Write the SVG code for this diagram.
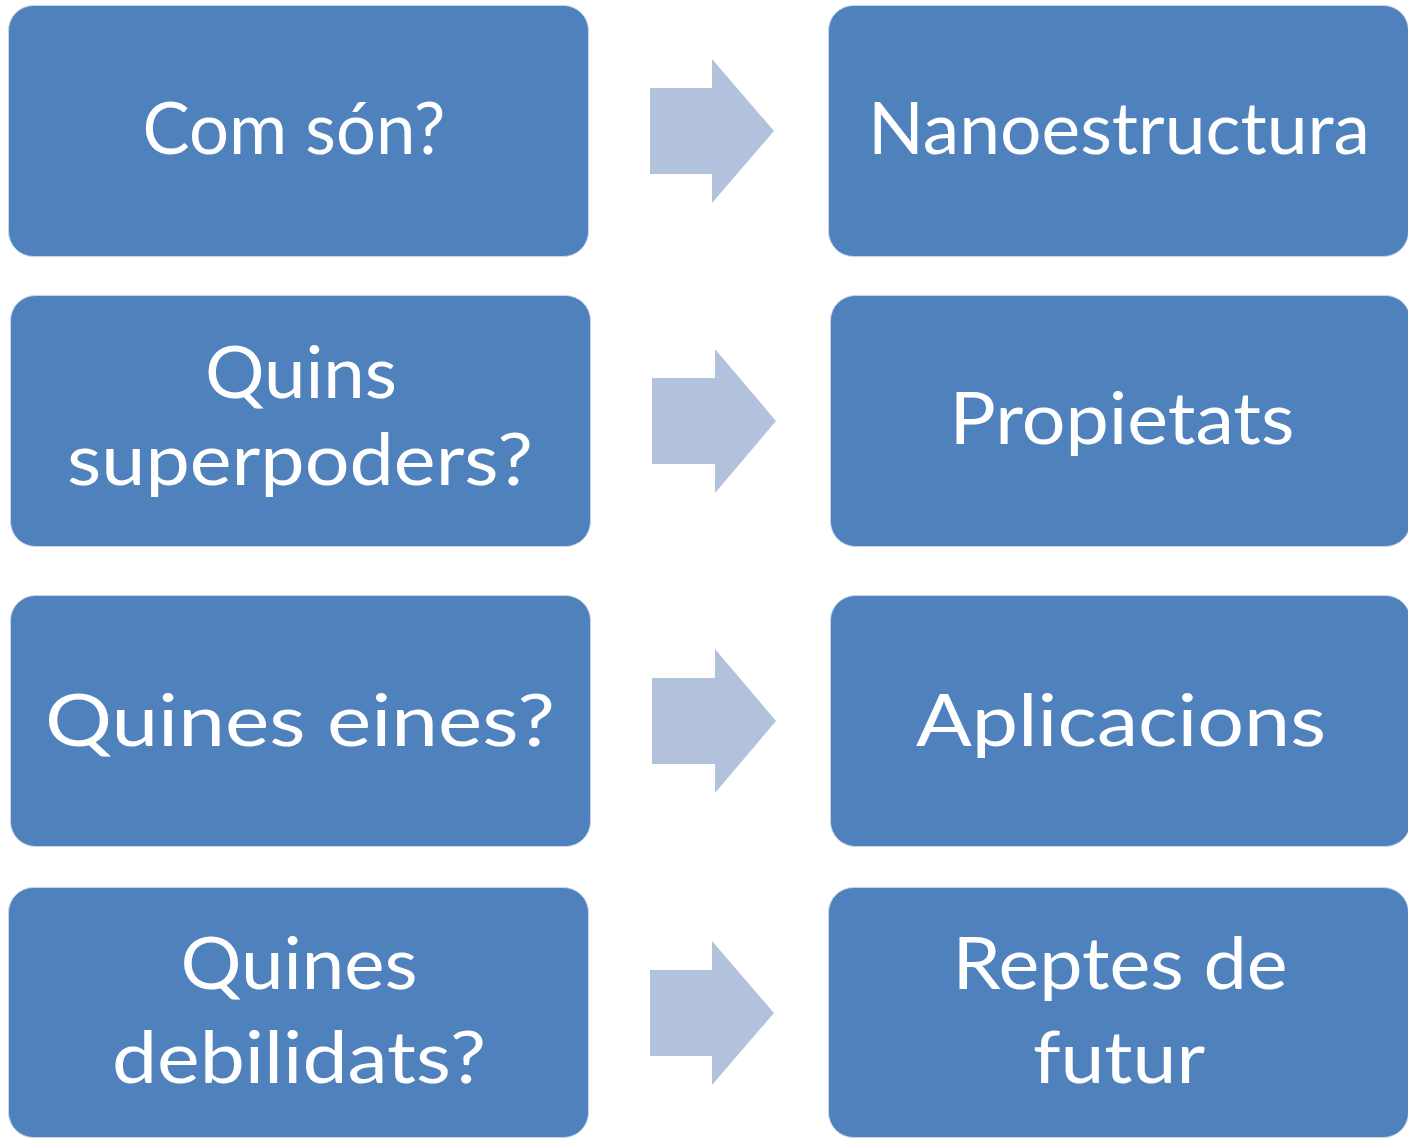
<svg xmlns="http://www.w3.org/2000/svg" width="1408" height="1138" viewBox="0 0 1408 1138">
<style>
.box{fill:#4F81BD;stroke:#C9D5EA;stroke-width:1}
.arr{fill:#B3C2DC}
.t{font-family:"Lato","Open Sans","Liberation Sans",sans-serif;font-size:72px;fill:#FFFFFF;text-anchor:middle}
</style>
<rect width="1408" height="1138" fill="#FFFFFF"/>
<g id="connectors">
<polygon class="arr" points="650,88 712,88 712,59 774,131 712,203 712,174 650,174"/>
<polygon class="arr" points="652,378 715,378 715,349 776,421 715,493 715,464 652,464"/>
<polygon class="arr" points="652,678 715,678 715,649 776,721 715,793 715,764 652,764"/>
<polygon class="arr" points="650,970 712,970 712,941 774,1013 712,1085 712,1056 650,1056"/>
</g>
<g id="n1"><rect class="box" x="8.5" y="5.5" width="580" height="251" rx="25"/>
<text class="t" x="294" y="154" textLength="303" lengthAdjust="spacingAndGlyphs">Com són?</text></g>
<g id="n2"><rect class="box" x="828.5" y="5.5" width="580" height="251" rx="25"/>
<text class="t" x="1119" y="154" textLength="502" lengthAdjust="spacingAndGlyphs">Nanoestructura</text></g>
<g id="n3"><rect class="box" x="10.5" y="295.5" width="580" height="251" rx="25"/>
<text class="t" x="301" y="398" textLength="192" lengthAdjust="spacingAndGlyphs">Quins</text>
<text class="t" x="300" y="485" textLength="466" lengthAdjust="spacingAndGlyphs">superpoders?</text></g>
<g id="n4"><rect class="box" x="830.5" y="295.5" width="580" height="251" rx="25"/>
<text class="t" x="1122" y="444" textLength="345" lengthAdjust="spacingAndGlyphs">Propietats</text></g>
<g id="n5"><rect class="box" x="10.5" y="595.5" width="580" height="251" rx="25"/>
<text class="t" x="300" y="746" textLength="510" lengthAdjust="spacingAndGlyphs">Quines eines?</text></g>
<g id="n6"><rect class="box" x="830.5" y="595.5" width="580" height="251" rx="25"/>
<text class="t" x="1121" y="746" textLength="410" lengthAdjust="spacingAndGlyphs">Aplicacions</text></g>
<g id="n7"><rect class="box" x="8.5" y="887.5" width="580" height="250" rx="25"/>
<text class="t" x="299" y="989" textLength="237" lengthAdjust="spacingAndGlyphs">Quines</text>
<text class="t" x="299" y="1083" textLength="374" lengthAdjust="spacingAndGlyphs">debilidats?</text></g>
<g id="n8"><rect class="box" x="828.5" y="887.5" width="580" height="250" rx="25"/>
<text class="t" x="1120" y="989" textLength="335" lengthAdjust="spacingAndGlyphs">Reptes de</text>
<text class="t" x="1119" y="1083" textLength="172" lengthAdjust="spacingAndGlyphs">futur</text></g>
</svg>
